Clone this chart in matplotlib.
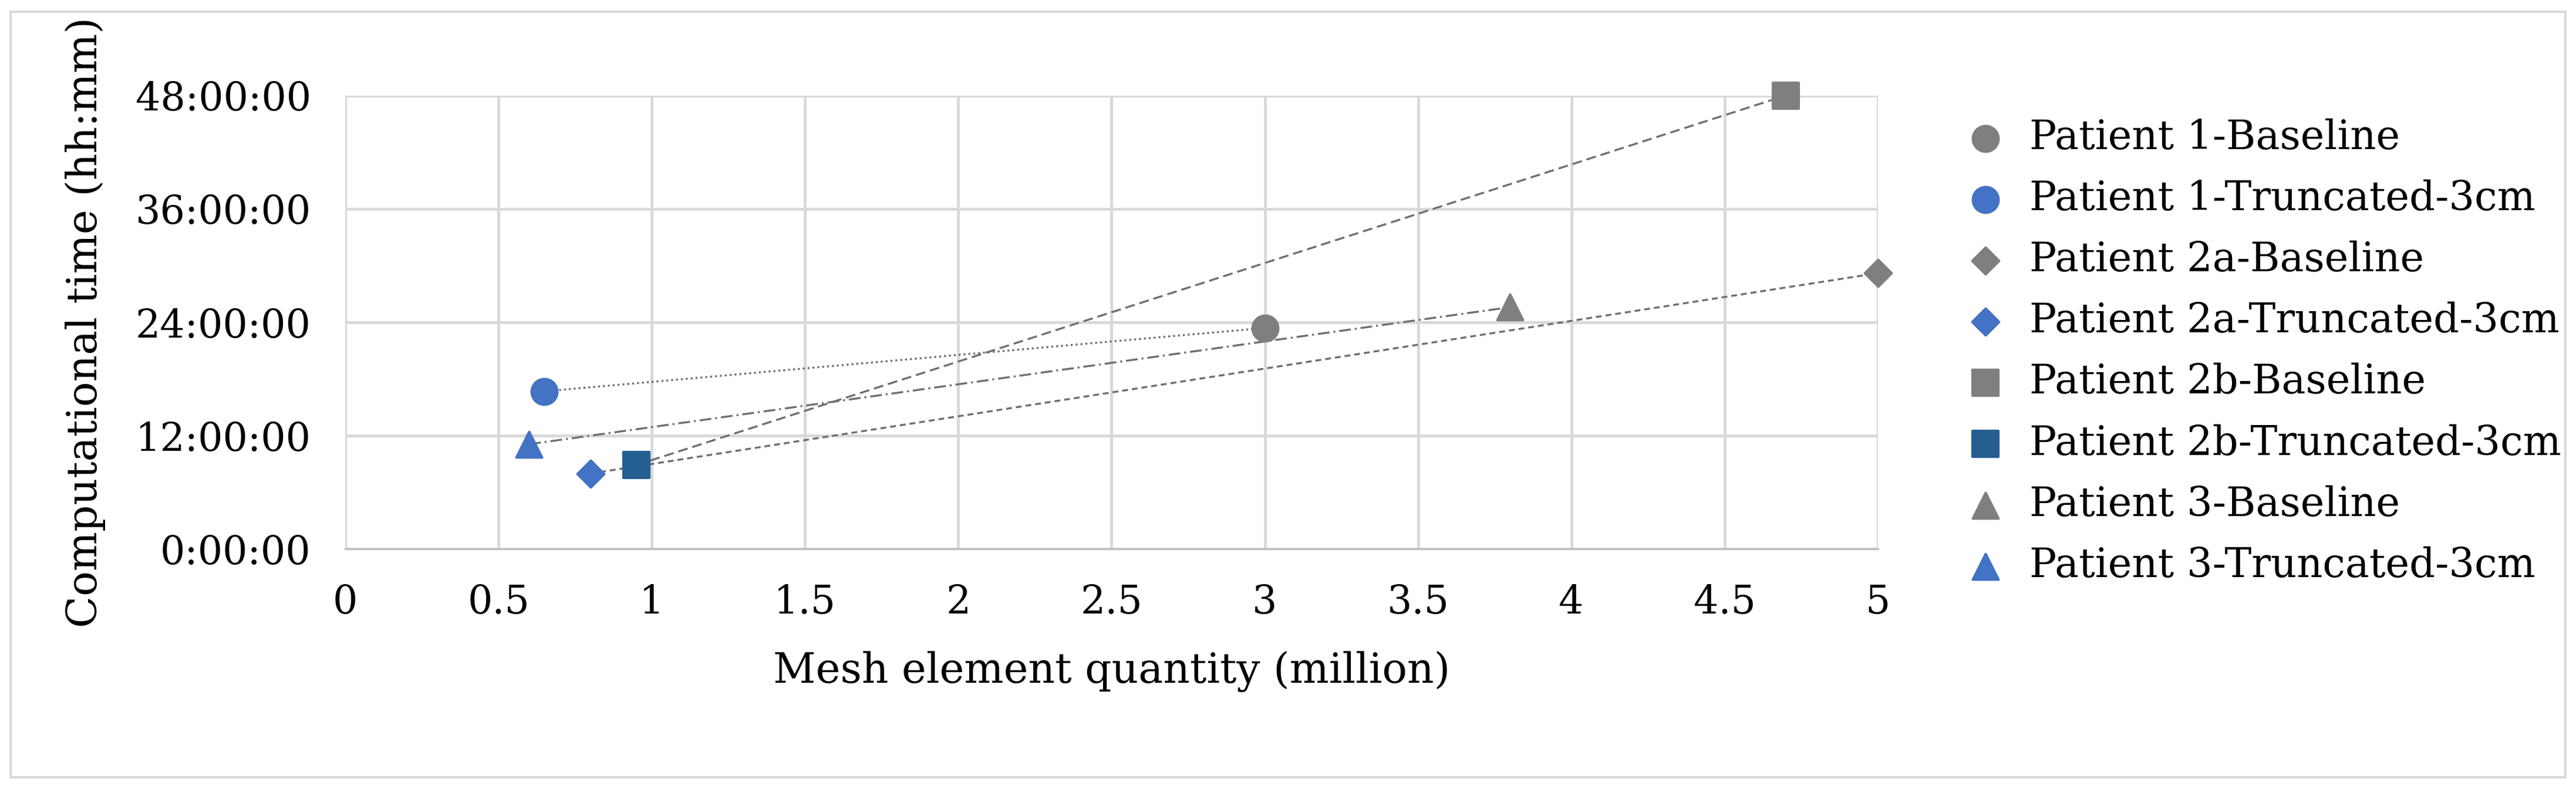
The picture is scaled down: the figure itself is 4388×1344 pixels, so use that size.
import matplotlib.pyplot as plt
from matplotlib.ticker import FuncFormatter
from matplotlib.patches import Rectangle

plt.rcParams['font.family'] = ['DejaVu Serif', 'Liberation Serif']

# mesh element quantity (million) and computational time (hours)
labels = ["Patient 1-Baseline", "Patient 1-Truncated-3cm",
          "Patient 2a-Baseline", "Patient 2a-Truncated-3cm",
          "Patient 2b-Baseline", "Patient 2b-Truncated-3cm",
          "Patient 3-Baseline", "Patient 3-Truncated-3cm"]
mesh = [3.0, 0.65, 5.0, 0.8, 4.7, 0.95, 3.8, 0.6]
hours = [23.4, 16.7, 29.2, 8.0, 48.0, 8.9, 25.6, 11.1]
markers = ['o', 'o', 'D', 'D', 's', 's', '^', '^']
colors = ['#7f7f7f', '#4472c4', '#7f7f7f', '#4472c4',
          '#7f7f7f', '#255e91', '#7f7f7f', '#4472c4']
sizes = [110, 110, 60, 60, 110, 110, 110, 110]
# trend line styles per patient (baseline -> truncated)
pair_styles = [(0, (1, 1.5)), (0, (3, 2)), (0, (5, 2.5)), (0, (6, 2, 1, 2))]

fig = plt.figure(figsize=(4388 / 300, 1344 / 300), dpi=300)
ax = fig.add_axes([0.134, 0.304, 0.595, 0.575])

for i, ls in enumerate(pair_styles):
    a, b = 2 * i, 2 * i + 1
    ax.plot([mesh[b], mesh[a]], [hours[b], hours[a]], color='#6e6e6e',
            lw=0.8, linestyle=ls, zorder=2)

for x, y, m, c, s, lab in zip(mesh, hours, markers, colors, sizes, labels):
    ax.scatter([x], [y], marker=m, color=c, s=s, label=lab, zorder=3, clip_on=False)

ax.set_xlim(0, 5)
ax.set_ylim(0, 48)
ax.set_xticks([0, 0.5, 1, 1.5, 2, 2.5, 3, 3.5, 4, 4.5, 5])
ax.set_xticklabels(["0", "0.5", "1", "1.5", "2", "2.5", "3", "3.5", "4", "4.5", "5"])
ax.set_yticks([0, 12, 24, 36, 48])
ax.yaxis.set_major_formatter(FuncFormatter(lambda v, p: f"{int(v)}:00:00"))
ax.grid(True, color='#d9d9d9', lw=1.2)
ax.set_axisbelow(True)
for side in ['top', 'right', 'left']:
    ax.spines[side].set_visible(False)
ax.spines['bottom'].set_color('#bfbfbf')
ax.tick_params(length=0, labelsize=16, pad=14)
ax.set_xlabel("Mesh element quantity (million)", fontsize=17, labelpad=12)
ax.set_ylabel("Computational time (hh:mm)", fontsize=17, labelpad=12)

ax.legend(loc='upper left', bbox_to_anchor=(1.02, 1.03), frameon=False,
          fontsize=16.5, handletextpad=0.1, labelspacing=0.55, scatterpoints=1)

fig.patches.append(Rectangle((0.004, 0.015), 0.992, 0.97, transform=fig.transFigure,
                             fill=False, edgecolor='#d9d9d9', lw=1))

fig.savefig("out.png", dpi=300)
